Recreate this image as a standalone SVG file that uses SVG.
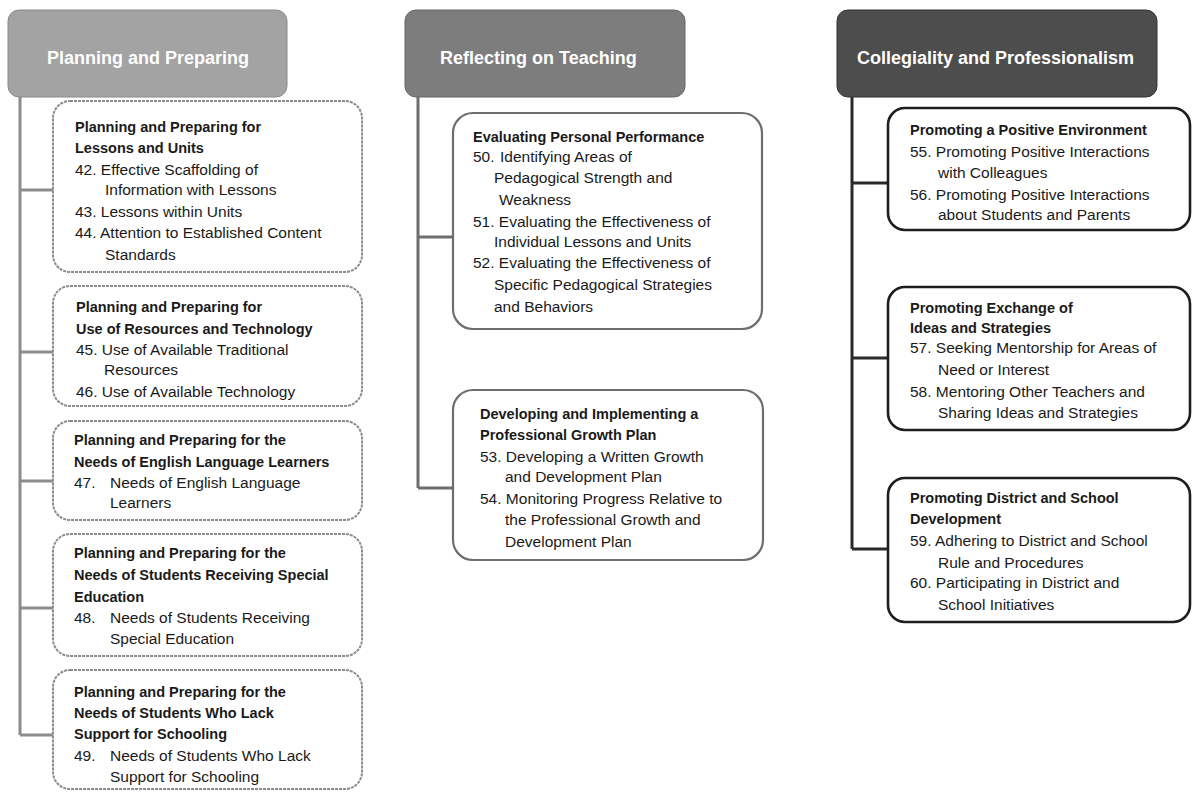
<svg xmlns="http://www.w3.org/2000/svg" width="1192" height="794" viewBox="0 0 1192 794">
<style>
text{font-family:"Liberation Sans",Arial,sans-serif;font-size:15.5px;fill:#1a1a1a}
.b{font-weight:bold;font-size:14.5px}
.ht{font-size:18px;font-weight:bold;fill:#fff}
.h1{fill:#a3a3a3;stroke:#8a8a8a;stroke-width:1}
.h2{fill:#7d7d7d;stroke:#666;stroke-width:1}
.h3{fill:#4d4d4d;stroke:#333;stroke-width:1}
.b1{fill:#fff;stroke:#8c8c8c;stroke-width:2;stroke-dasharray:3 1}
.b2{fill:#fff;stroke:#6e6e6e;stroke-width:2.2}
.b3{fill:#fff;stroke:#1e1e1e;stroke-width:2.6}
.c1{fill:none;stroke:#8c8c8c;stroke-width:3}
.c2{fill:none;stroke:#6e6e6e;stroke-width:3}
.c3{fill:none;stroke:#2a2a2a;stroke-width:3}
</style>
<g id="connectors">
<path class="c1" d="M20 97 V735 M20 190 H53 M20 352 H53 M20 481 H53 M20 608 H53 M20 735 H53"/>
<path class="c2" d="M418 97 V488 M418 237 H453 M418 488 H453"/>
<path class="c3" d="M852 97 V549 M852 183 H888 M852 358 H888 M852 549 H888"/>
</g>
<g id="header1"><rect class="h1" x="8" y="10" width="279" height="87" rx="11"/><text class="ht" x="47" y="64">Planning and Preparing</text></g>
<g id="header2"><rect class="h2" x="405" y="10" width="280" height="87" rx="11"/><text class="ht" x="440" y="64">Reflecting on Teaching</text></g>
<g id="header3"><rect class="h3" x="837" y="10" width="320" height="87" rx="11"/><text class="ht" x="857" y="64">Collegiality and Professionalism</text></g>

<g id="box1"><rect class="b1" x="53" y="101" width="309" height="171" rx="17"/>
<text class="b" x="75" y="132">Planning and Preparing for</text>
<text class="b" x="75" y="153">Lessons and Units</text>
<text x="75" y="175">42. Effective Scaffolding of</text>
<text x="105" y="195">Information with Lessons</text>
<text x="75" y="217">43. Lessons within Units</text>
<text x="75" y="238">44. Attention to Established Content</text>
<text x="105" y="260">Standards</text></g>

<g id="box2"><rect class="b1" x="53" y="286" width="309" height="120" rx="17"/>
<text class="b" x="76" y="312">Planning and Preparing for</text>
<text class="b" x="76" y="334">Use of Resources and Technology</text>
<text x="76" y="355">45. Use of Available Traditional</text>
<text x="104" y="375">Resources</text>
<text x="76" y="397">46. Use of Available Technology</text></g>

<g id="box3"><rect class="b1" x="53" y="421" width="309" height="99" rx="17"/>
<text class="b" x="74" y="445">Planning and Preparing for the</text>
<text class="b" x="74" y="467">Needs of English Language Learners</text>
<text x="74" y="488">47.</text><text x="110" y="488">Needs of English Language</text>
<text x="110" y="508">Learners</text></g>

<g id="box4"><rect class="b1" x="53" y="534" width="309" height="122" rx="17"/>
<text class="b" x="74" y="558">Planning and Preparing for the</text>
<text class="b" x="74" y="580">Needs of Students Receiving Special</text>
<text class="b" x="74" y="602">Education</text>
<text x="74" y="623">48.</text><text x="110" y="623">Needs of Students Receiving</text>
<text x="110" y="644">Special Education</text></g>

<g id="box5"><rect class="b1" x="53" y="670" width="309" height="119" rx="17"/>
<text class="b" x="74" y="697">Planning and Preparing for the</text>
<text class="b" x="74" y="718">Needs of Students Who Lack</text>
<text class="b" x="74" y="739">Support for Schooling</text>
<text x="74" y="761">49.</text><text x="110" y="761">Needs of Students Who Lack</text>
<text x="110" y="782">Support for Schooling</text></g>

<g id="box6"><rect class="b2" x="453" y="113" width="309" height="216" rx="20"/>
<text class="b" x="473" y="142">Evaluating Personal Performance</text>
<text x="473" y="162">50.</text><text x="500" y="162">Identifying Areas of</text>
<text x="494" y="183">Pedagogical Strength and</text>
<text x="499" y="205">Weakness</text>
<text x="473" y="227">51. Evaluating the Effectiveness of</text>
<text x="494" y="247">Individual Lessons and Units</text>
<text x="473" y="268">52. Evaluating the Effectiveness of</text>
<text x="494" y="290">Specific Pedagogical Strategies</text>
<text x="494" y="312">and Behaviors</text></g>

<g id="box7"><rect class="b2" x="453" y="390" width="310" height="170" rx="20"/>
<text class="b" x="480" y="419">Developing and Implementing a</text>
<text class="b" x="480" y="440">Professional Growth Plan</text>
<text x="480" y="462">53. Developing a Written Growth</text>
<text x="505" y="482">and Development Plan</text>
<text x="480" y="504">54. Monitoring Progress Relative to</text>
<text x="505" y="525">the Professional Growth and</text>
<text x="505" y="547">Development Plan</text></g>

<g id="box8"><rect class="b3" x="888" y="108" width="302" height="122" rx="17"/>
<text class="b" x="910" y="135">Promoting a Positive Environment</text>
<text x="910" y="157">55. Promoting Positive Interactions</text>
<text x="938" y="178">with Colleagues</text>
<text x="910" y="200">56. Promoting Positive Interactions</text>
<text x="938" y="220">about Students and Parents</text></g>

<g id="box9"><rect class="b3" x="888" y="287" width="302" height="143" rx="17"/>
<text class="b" x="910" y="313">Promoting Exchange of</text>
<text class="b" x="910" y="333">Ideas and Strategies</text>
<text x="910" y="353">57. Seeking Mentorship for Areas of</text>
<text x="938" y="375">Need or Interest</text>
<text x="910" y="397">58. Mentoring Other Teachers and</text>
<text x="938" y="418">Sharing Ideas and Strategies</text></g>

<g id="box10"><rect class="b3" x="888" y="478" width="302" height="144" rx="17"/>
<text class="b" x="910" y="503">Promoting District and School</text>
<text class="b" x="910" y="524">Development</text>
<text x="910" y="546">59. Adhering to District and School</text>
<text x="938" y="568">Rule and Procedures</text>
<text x="910" y="588">60. Participating in District and</text>
<text x="938" y="610">School Initiatives</text></g>
</svg>
